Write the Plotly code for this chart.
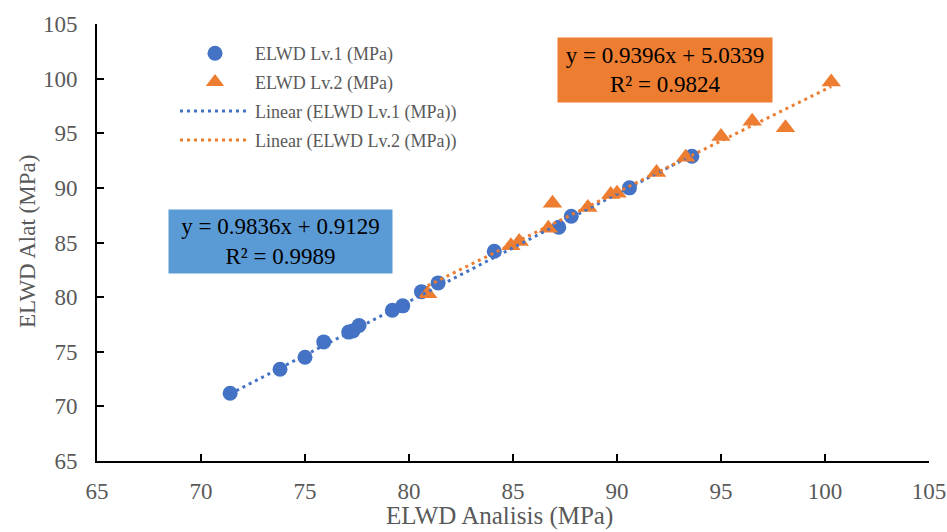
import plotly.graph_objects as go

# ---- data ----
lv1_x = [71.4, 73.8, 75.0, 75.9, 77.1, 77.3, 77.6, 79.2, 79.7, 80.6, 81.4, 84.1, 87.2, 87.8, 90.6, 93.6]
lv1_y = [71.2, 73.4, 74.5, 75.9, 76.8, 76.9, 77.4, 78.8, 79.2, 80.5, 81.3, 84.2, 86.4, 87.4, 90.0, 92.9]
lv2_x = [80.9, 84.9, 85.3, 86.7, 86.9, 88.6, 89.7, 90.0, 91.9, 93.3, 95.0, 96.5, 98.1, 100.3]
lv2_y = [80.3, 84.7, 85.1, 86.3, 88.6, 88.2, 89.4, 89.5, 91.4, 92.8, 94.7, 96.1, 95.5, 99.7]

fit1_slope, fit1_icpt, fit1_r2 = 0.9836, 0.9129, 0.9989
fit2_slope, fit2_icpt, fit2_r2 = 0.9396, 5.0339, 0.9824

tick_vals = [65, 70, 75, 80, 85, 90, 95, 100, 105]
x_title = "ELWD Analisis (MPa)"
y_title = "ELWD Alat (MPa)"
names = ["ELWD Lv.1 (MPa)", "ELWD Lv.2 (MPa)"]

BLUE = "#4472C4"
ORANGE = "#ED7D31"
FONT = "Liberation Serif"
GRAY = "#595959"

def trend(xs, m, b):
    xr = [min(xs), max(xs)]
    return xr, [m * v + b for v in xr]

t1x, t1y = trend(lv1_x, fit1_slope, fit1_icpt)
t2x, t2y = trend(lv2_x, fit2_slope, fit2_icpt)

fig = go.Figure()
fig.add_trace(go.Scatter(x=lv1_x, y=lv1_y, mode="markers", name=names[0], legendgroup="a",
                         marker=dict(symbol="circle", size=15, color=BLUE)))
fig.add_trace(go.Scatter(x=lv2_x, y=lv2_y, mode="markers", name=names[1], legendgroup="b",
                         marker=dict(symbol="triangle-up", size=17, color=ORANGE)))
fig.add_trace(go.Scatter(x=t1x, y=t1y, mode="lines", name="Linear (" + names[0] + ")", legendgroup="c",
                         line=dict(color=BLUE, width=3, dash="3px,4px")))
fig.add_trace(go.Scatter(x=t2x, y=t2y, mode="lines", name="Linear (" + names[1] + ")", legendgroup="d",
                         line=dict(color=ORANGE, width=3, dash="3px,4px")))

L, R, T, B = 97, 18, 24, 71
W, H = 947, 532
pw, ph = W - L - R, H - T - B

def px2paper(px, py):
    return (px - L) / pw, (H - B - py) / ph

axis_common = dict(range=[65, 105], tickvals=tick_vals, showgrid=False, zeroline=False,
                   showline=True, linecolor="black", linewidth=2, ticks="inside", ticklen=7,
                   tickwidth=1.5, tickcolor="black", automargin=False,
                   tickfont=dict(family=FONT, size=23, color=GRAY))

fig.update_xaxes(**axis_common, ticklabelstandoff=8)
fig.update_yaxes(**axis_common, ticklabelstandoff=13)

# axis titles
tx, ty = px2paper(499, 516)
fig.add_annotation(xref="paper", yref="paper", x=tx, y=ty, xanchor="center", yanchor="middle",
                   text=x_title, showarrow=False, font=dict(family=FONT, size=25, color=GRAY))
yx, yy = px2paper(28, 242)
fig.add_annotation(xref="paper", yref="paper", x=yx, y=yy, xanchor="center", yanchor="middle",
                   text=y_title, showarrow=False, textangle=-90,
                   font=dict(family=FONT, size=23, color=GRAY))

bx, by = px2paper(280.5, 241.5)
ox, oy = px2paper(665, 70)
fig.add_annotation(xref="paper", yref="paper", x=bx, y=by, xanchor="center", yanchor="middle",
                   text=f"y = {fit1_slope}x + {fit1_icpt}<br>R² = {fit1_r2}", showarrow=False,
                   bgcolor="#5B9BD5", width=223, height=63, borderpad=0,
                   font=dict(family=FONT, size=23, color="black"), align="center")
fig.add_annotation(xref="paper", yref="paper", x=ox, y=oy, xanchor="center", yanchor="middle",
                   text=f"y = {fit2_slope}x + {fit2_icpt}<br>R² = {fit2_r2}", showarrow=False,
                   bgcolor=ORANGE, width=214, height=64, borderpad=0,
                   font=dict(family=FONT, size=23, color="black"), align="center")

lx, ly = px2paper(175, 35)
fig.update_layout(
    width=W, height=H, margin=dict(l=L, r=R, t=T, b=B, autoexpand=False),
    plot_bgcolor="white", paper_bgcolor="white",
    legend=dict(x=lx, y=ly, xanchor="left", yanchor="top", itemwidth=70,
                font=dict(family=FONT, size=18, color=GRAY), bgcolor="rgba(0,0,0,0)",
                tracegroupgap=2.5),
)

fig.write_html("out.html")
